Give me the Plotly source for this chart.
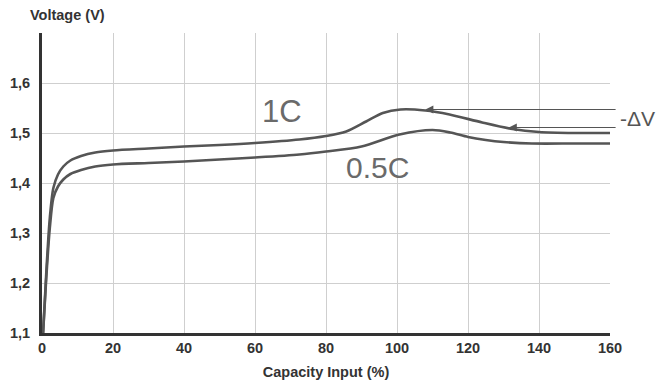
import plotly.graph_objects as go

# Data
x_1c = [0.3, 1.2, 2.2, 3.2, 4.5, 6, 8, 11, 15, 20, 30, 40, 50, 60, 72.5, 80, 85.7, 91.3, 96, 101, 108, 114.8, 124, 132.5, 140, 150, 160]
y_1c = [1.10, 1.22, 1.33, 1.39, 1.417, 1.433, 1.445, 1.454, 1.461, 1.465, 1.469, 1.473, 1.476, 1.480, 1.487, 1.494, 1.503, 1.523, 1.540, 1.547, 1.545, 1.537, 1.521, 1.508, 1.502, 1.500, 1.500]

x_05c = [0.3, 1.2, 2.2, 3.2, 4.5, 6, 8, 11, 15, 20, 30, 40, 50, 60, 72.5, 80, 90, 100.7, 110, 115, 120, 125, 130, 138, 150, 160]
y_05c = [1.10, 1.21, 1.31, 1.37, 1.393, 1.407, 1.418, 1.426, 1.433, 1.437, 1.440, 1.443, 1.447, 1.451, 1.457, 1.463, 1.473, 1.497, 1.506, 1.501, 1.492, 1.486, 1.482, 1.479, 1.479, 1.479]

x_ticks = [0, 20, 40, 60, 80, 100, 120, 140, 160]
y_ticks = [1.1, 1.2, 1.3, 1.4, 1.5, 1.6, 1.7]
y_tick_text = ["1,1", "1,2", "1,3", "1,4", "1,5", "1,6", ""]

arrow_heads_x = [108, 131.5]
arrow_heads_y = [1.547, 1.511]
arrow_tail_x = 162

curve_color = "#555555"
font_family = "Liberation Sans, Arial, sans-serif"

fig = go.Figure()
fig.add_trace(go.Scatter(x=x_1c, y=y_1c, mode="lines", name="1C",
                         line=dict(color=curve_color, width=2.6, shape="spline", smoothing=0.8)))
fig.add_trace(go.Scatter(x=x_05c, y=y_05c, mode="lines", name="0.5C",
                         line=dict(color=curve_color, width=2.6, shape="spline", smoothing=0.8)))

for hx, hy in zip(arrow_heads_x, arrow_heads_y):
    fig.add_annotation(x=hx, y=hy, ax=arrow_tail_x, ay=hy, xref="x", yref="y",
                       axref="x", ayref="y", showarrow=True, arrowhead=2,
                       arrowsize=1.6, arrowwidth=1, arrowcolor=curve_color, text="")

fig.add_annotation(x=67.7, y=1.543, xref="x", yref="y", text="1C", showarrow=False,
                   font=dict(family=font_family, size=31, color="#6a6a6a"))
fig.add_annotation(x=94.5, y=1.431, xref="x", yref="y", text="0.5C", showarrow=False,
                   font=dict(family=font_family, size=30, color="#6a6a6a"))
fig.add_annotation(x=(618 - 42) / 568, y=1.530, xref="paper", yref="y", text="-ΔV",
                   xanchor="left", showarrow=False,
                   font=dict(family=font_family, size=21, color="#555555"))

fig.add_annotation(x=(28 - 42) / 568, y=1.0 + 18 / 300, xref="paper", yref="paper",
                   xanchor="left", yanchor="middle", showarrow=False,
                   text="<b>Voltage (V)</b>",
                   font=dict(family=font_family, size=14.5, color="#333333"))

fig.update_layout(
    width=660, height=381,
    margin=dict(l=42, r=50, t=33, b=48, autoexpand=False),
    paper_bgcolor="white", plot_bgcolor="white",
    showlegend=False,
    font=dict(family=font_family, size=13, color="#333333"),
    xaxis=dict(range=[0, 160], tickvals=x_ticks, ticktext=[str(v) for v in x_ticks],
               showgrid=True, gridcolor="#cfcfcf", gridwidth=1, automargin=False,
               showline=True, linecolor="#333333", linewidth=3, zeroline=False,
               ticks="", tickfont=dict(family=font_family, size=14.5, color="#333333", weight="bold"),
               title=dict(text="<b>Capacity Input (%)</b>", standoff=12,
                          font=dict(family=font_family, size=14.5, color="#333333"))),
    yaxis=dict(range=[1.1, 1.7], tickvals=y_ticks, ticktext=y_tick_text,
               showgrid=True, gridcolor="#cfcfcf", gridwidth=1, automargin=False,
               showline=True, linecolor="#333333", linewidth=3, zeroline=False,
               ticks="", ticklabelstandoff=6,
               tickfont=dict(family=font_family, size=14.5, color="#333333", weight="bold")),
)

fig.write_html("out.html")
